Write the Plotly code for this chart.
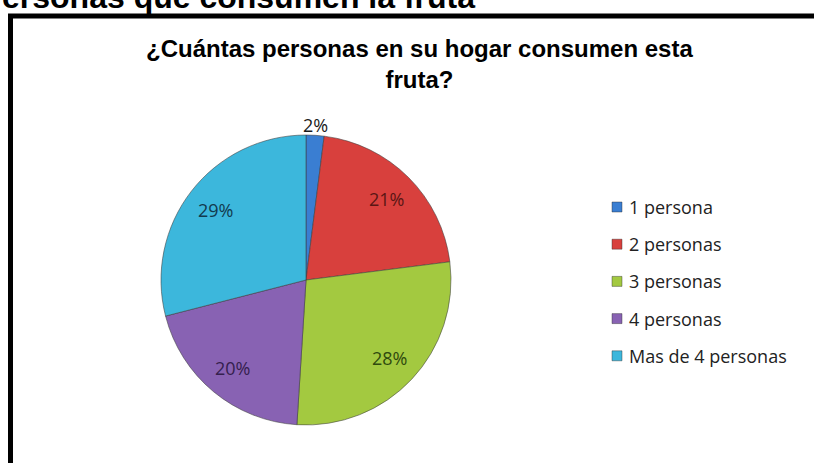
import math
import plotly.graph_objects as go

# ---- data ----
labels = ["1 persona", "2 personas", "3 personas", "4 personas", "Mas de 4 personas"]
values = [2, 21, 28, 20, 29]
colors = ["#3A7ED2", "#D8403D", "#A3C940", "#8862B3", "#3CB7DC"]
text_colors = ["#1a1a1a", "#5a1614", "#2f4a0e", "#35204e", "#123a4e"]
label_radius = [1.07, 0.79, 0.79, 0.79, 0.79]   # radial placement of % labels (fraction of radius)
title_text = "¿Cuántas personas en su hogar consumen esta<br>fruta?"
header_text = "ersonas que consumen la fruta"

W, H = 814, 463

def px(x):
    return x / W

def py(y):
    return 1 - y / H

fig = go.Figure()

cx, cy, r = 306, 280, 145
fig.add_trace(go.Pie(
    labels=labels,
    values=values,
    sort=False,
    direction="clockwise",
    rotation=0,
    marker=dict(colors=colors, line=dict(color="rgba(60,60,60,0.55)", width=1)),
    textinfo="none",
    showlegend=False,
    hoverinfo="label+percent",
    domain=dict(x=[px(cx - r), px(cx + r)], y=[py(cy + r), py(cy - r)]),
))

shapes = []
annotations = []

# percentage labels, placed at each slice's mid-angle
total = sum(values)
cum = 0
for v, tc, k in zip(values, text_colors, label_radius):
    mid = (cum + v / 2) / total * 2 * math.pi
    cum += v
    lx = cx + k * r * math.sin(mid)
    ly = cy - k * r * math.cos(mid)
    annotations.append(dict(xref="paper", yref="paper", x=px(lx), y=py(ly),
                            xanchor="center", yanchor="middle", showarrow=False,
                            text=f"{round(v / total * 100)}%",
                            font=dict(family="Open Sans", size=18, color=tc)))

# outer chart frame (partly outside the picture)
shapes.append(dict(type="rect", xref="paper", yref="paper",
                   x0=px(10.5), x1=1.05, y0=-0.05, y1=py(16),
                   line=dict(color="black", width=5), fillcolor="rgba(0,0,0,0)"))

# legend
leg_x_box, leg_x_text, leg_y0, leg_gap, box = 612, 627, 207, 37.2, 10
for i, (lab, col) in enumerate(zip(labels, colors)):
    yc = leg_y0 + i * leg_gap
    shapes.append(dict(type="rect", xref="paper", yref="paper",
                       x0=px(leg_x_box), x1=px(leg_x_box + box),
                       y0=py(yc + box / 2), y1=py(yc - box / 2),
                       fillcolor=col, line=dict(color="rgba(40,40,40,0.5)", width=0.8)))
    annotations.append(dict(xref="paper", yref="paper", x=px(leg_x_text), y=py(yc),
                            xanchor="left", yanchor="middle", showarrow=False,
                            text=lab, font=dict(family="Open Sans", size=18, color="#222222")))

# header text, cut by the top edge
annotations.append(dict(xref="paper", yref="paper", x=0, y=py(-3),
                        xanchor="left", yanchor="middle", showarrow=False,
                        text="<b>" + header_text + "</b>",
                        font=dict(family="Liberation Sans", size=32, color="black")))

# chart title
annotations.append(dict(xref="paper", yref="paper", x=px(419), y=py(64),
                        xanchor="center", yanchor="middle", showarrow=False,
                        align="center",
                        text="<b>" + title_text + "</b>",
                        font=dict(family="Liberation Sans", size=24, color="black")))

fig.update_layout(
    width=W, height=H,
    margin=dict(l=0, r=0, t=0, b=0),
    paper_bgcolor="white",
    plot_bgcolor="white",
    shapes=shapes,
    annotations=annotations,
)

fig.write_html("out.html", config={"displayModeBar": False},
               post_script="document.body.style.margin='0';")
